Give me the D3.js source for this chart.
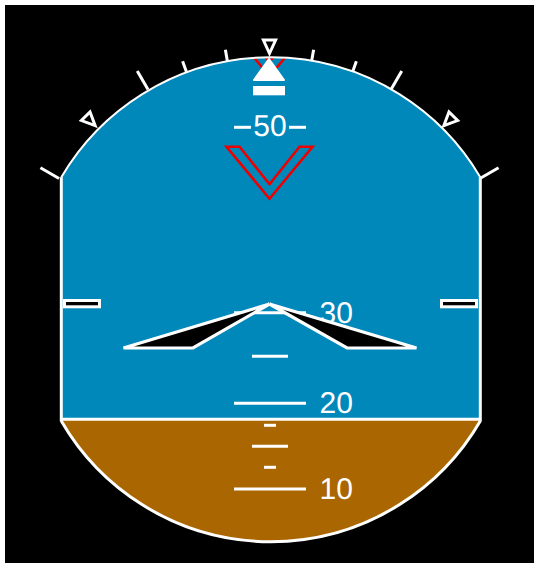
<!DOCTYPE html>
<html><head><meta charset="utf-8">
<script src="https://cdnjs.cloudflare.com/ajax/libs/d3/7.8.5/d3.min.js"></script>
<style>html,body{margin:0;padding:0;background:#fff}svg{display:block}</style>
</head><body><svg id="c"></svg>
<script>
const W = 534, H = 563;
// pitch ladder (degrees)
const pitchMajor = [10, 20, 30];
const pitchMinor = [15, 25];
const pitchTiny = [12.5, 17.5];
const pitchLabels = ["10", "20", "30"];
const pitchDomain = [10, 12.5, 15, 17.5, 20, 25, 30, 50, 60];
const pitchRange = [489, 467.3, 446.3, 425.3, 403.3, 356.3, 312.8, 127.3, 34.6];
const horizonPitch = 18.2;
const chevronPitch = [42.3, 55.5];
// roll scale (degrees)
const rollMajor = [-60, -30, 30, 60];
const rollMinor = [-20, -10, 10, 20];
const rollMarkers = [-45, 0, 45];

const colors = {bg:"#000", sky:"#0088bb", ground:"#aa6600", line:"#fff", red:"#ee0000"};

const svg = d3.select("#c").attr("width", W).attr("height", H);
const y = d3.scaleLinear().domain(pitchDomain).range(pitchRange);

const cx = 270.8, cy = 300.3, R = 243, cyB = 299.5, RB = 242.2, xL = 61.3, xR = 480.3;
const tx = 269.5, ty = 300, tR = 243;
const rad = d => (d - 90) * Math.PI / 180;
const pol = (a, r) => [tx + r * Math.cos(rad(a)), ty + r * Math.sin(rad(a))];
const horizonY = y(horizonPitch);

svg.append("rect").attr("x", 5).attr("y", 5).attr("width", W - 5).attr("height", H - 5).attr("fill", colors.bg);

const circle = (r) => d3.arc()({innerRadius:0, outerRadius:r, startAngle:0, endAngle:2*Math.PI});
const defs = svg.append("defs");
defs.append("clipPath").attr("id", "top").append("path")
  .attr("d", circle(R)).attr("transform", `translate(${cx},${cy})`);
defs.append("clipPath").attr("id", "bot").append("path")
  .attr("d", circle(RB)).attr("transform", `translate(${cx},${cyB})`);

const dial = svg.append("g").attr("clip-path", "url(#top)");
dial.append("rect").attr("x", xL).attr("y", 0).attr("width", xR - xL).attr("height", horizonY).attr("fill", colors.sky);
svg.append("g").attr("clip-path", "url(#bot)").append("rect")
  .attr("x", xL).attr("y", horizonY).attr("width", xR - xL).attr("height", H - horizonY).attr("fill", colors.ground);

// frame
const aL = -Math.asin((cx - xL) / R) * 180 / Math.PI;
const aR = Math.asin((xR - cx) / R) * 180 / Math.PI;
const arcPath = (r, a0, a1) => d3.arc()({innerRadius:r, outerRadius:r, startAngle:a0*Math.PI/180, endAngle:a1*Math.PI/180});
svg.append("path").attr("d", arcPath(R, aL, aR)).attr("transform", `translate(${cx},${cy})`)
  .attr("fill", "none").attr("stroke", colors.line).attr("stroke-width", 2);
const topY = cy - Math.sqrt(R*R - (cx-xL)*(cx-xL));
const startB = 180 - Math.asin((xR - cx) / RB) * 180 / Math.PI;
const endB = 180 + Math.asin((cx - xL) / RB) * 180 / Math.PI;
svg.append("path").attr("d", arcPath(RB, startB, endB)).attr("transform", `translate(${cx},${cyB})`)
  .attr("fill", "none").attr("stroke", colors.line).attr("stroke-width", 3);
const frame = svg.append("g").attr("stroke", colors.line).attr("stroke-width", 3);
frame.append("line").attr("x1", xL).attr("x2", xL).attr("y1", topY).attr("y2", horizonY + 2.5);
frame.append("line").attr("x1", xR).attr("x2", xR).attr("y1", topY).attr("y2", horizonY + 2.5);
frame.append("line").attr("x1", xL).attr("x2", xR).attr("y1", horizonY).attr("y2", horizonY);

// chevrons
const line = d3.line();
const apexX = 269.5;
const chev = [[-43,-52],[-30,-52],[0,-14.5],[30,-52],[43,-52],[0,0]];
dial.selectAll("path.chev").data(chevronPitch).join("path").attr("class","chev")
  .attr("d", p => line(chev.map(([dx,dy]) => [apexX+dx, y(p)+dy]) ) + "Z")
  .attr("fill","none").attr("stroke",colors.red).attr("stroke-width",2.6);

// pitch ladder
const xMid = 270;
const ladder = svg.append("g").attr("stroke", colors.line).attr("stroke-width", 3);
ladder.selectAll("line.maj").data(pitchMajor).join("line").attr("class","maj")
  .attr("x1", xMid-36).attr("x2", xMid+36).attr("y1", y).attr("y2", y);
ladder.selectAll("line.min").data(pitchMinor).join("line").attr("class","min")
  .attr("x1", xMid-18).attr("x2", xMid+18).attr("y1", y).attr("y2", y);
ladder.selectAll("line.tiny").data(pitchTiny).join("line").attr("class","tiny")
  .attr("x1", xMid-6).attr("x2", xMid+6).attr("y1", y).attr("y2", y);
ladder.append("line").attr("x1", xMid-36).attr("x2", xMid-19).attr("y1", y(50)).attr("y2", y(50));
ladder.append("line").attr("x1", xMid+19).attr("x2", xMid+36).attr("y1", y(50)).attr("y2", y(50));

const txt = svg.append("g").attr("fill", colors.line)
  .attr("font-family", "'Liberation Sans',Arial,sans-serif").attr("font-size", 30)
  .style("text-rendering", "geometricPrecision");
txt.selectAll("text.l").data(pitchLabels).join("text").attr("class","l")
  .attr("x", 319.5).attr("y", d => y(+d) + 10).text(d => d);
txt.append("text").attr("x", xMid).attr("y", y(50)+9).attr("text-anchor","middle").text("50");

// aircraft symbol
const tip = [269.5, 304], wingY = 348;
const wings = [[[tip[0],tip[1]],[123.5,wingY],[193,wingY]], [[tip[0],tip[1]],[416.5,wingY],[347,wingY]]];
svg.selectAll("path.wing").data(wings).join("path").attr("class","wing")
  .attr("d", d => line(d) + "Z").attr("fill","#000").attr("stroke",colors.line).attr("stroke-width",3.2);

// side markers
svg.selectAll("rect.side").data([64.5, 441.5]).join("rect").attr("class","side")
  .attr("x", d => d).attr("y", 300.5).attr("width", 35).attr("height", 6.3)
  .attr("fill","#000").attr("stroke",colors.line).attr("stroke-width",3);

// roll ticks
const ticks = svg.append("g").attr("stroke", colors.line).attr("stroke-width", 3);
const tickLine = (sel, data, r1) => sel.selectAll(null).data(data).join("line")
  .attr("x1", a => pol(a,tR)[0]).attr("y1", a => pol(a,tR)[1])
  .attr("x2", a => pol(a,r1)[0]).attr("y2", a => pol(a,r1)[1]);
tickLine(ticks, rollMajor, tR+21.5);
tickLine(ticks, rollMinor, tR+11);

// roll markers (triangles pointing inward)
svg.selectAll("path.mark").data(rollMarkers).join("path").attr("class","mark")
  .attr("d", a => line([pol(a,tR+3.5), pol(a-1.35,tR+17), pol(a+1.35,tR+17)]) + "Z")
  .attr("fill","none").attr("stroke",colors.line).attr("stroke-width",3);

// sky pointer + slip indicator
const ptrX = 269;
svg.append("path").attr("d", line([[ptrX,59],[ptrX-15,80],[ptrX+15,80]]) + "Z")
  .attr("fill",colors.line).attr("stroke",colors.line).attr("stroke-width",2).attr("stroke-linejoin","round");
svg.append("rect").attr("x", ptrX-16).attr("y", 86).attr("width", 32).attr("height", 9.3).attr("fill", colors.line);
</script></body></html>
